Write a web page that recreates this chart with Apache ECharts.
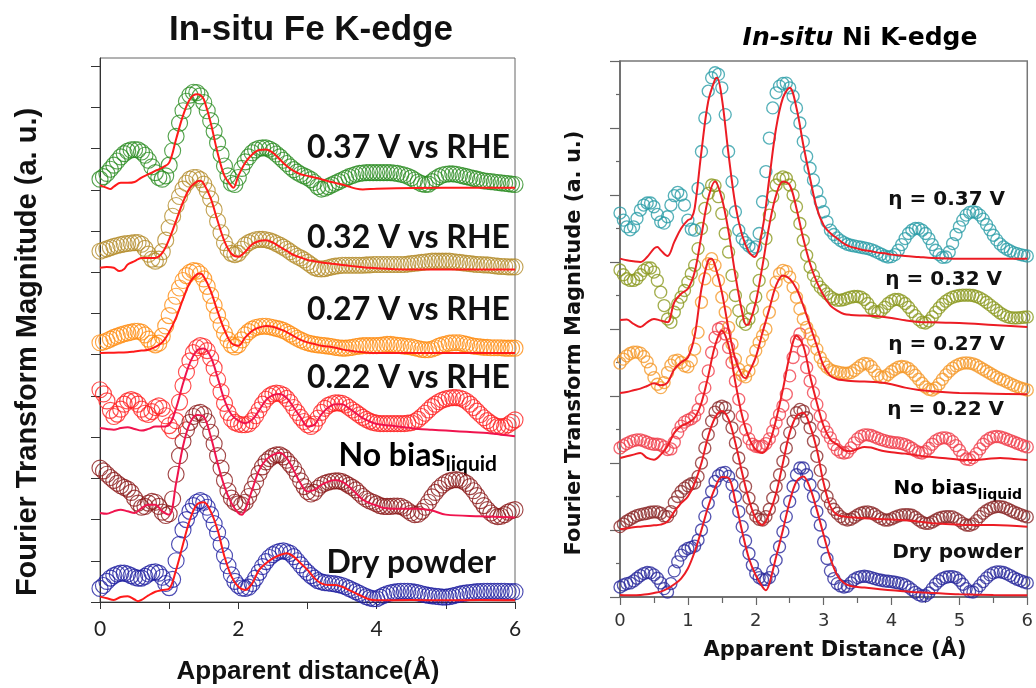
<!DOCTYPE html>
<html>
<head>
<meta charset="utf-8">
<script src="https://cdn.jsdelivr.net/npm/echarts@6/dist/echarts.min.js"></script>
<style>
  html, body { margin: 0; padding: 0; background: #fff; }
  #chart { width: 1036px; height: 688px; }
</style>
</head>
<body>
<div id="chart"></div>
<script>
// Apparent distance grid of the measured FT magnitudes (Å)
const R_STEP = 0.05;

// Vertical stacking offsets (a. u.), bottom trace first
const stackOffsets = [0, 2, 4, 6, 8, 10];

// ---------- Fe K-edge: measured |FT| (rows cover 1 Å each, last value at 6 Å) ----------
const feDry = [
  0.33,0.40,0.50,0.58,0.64,0.68,0.70,0.70,0.68,0.64,0.60,0.58,0.58,0.62,0.68,0.72,0.73,0.70,0.60,0.45,
  0.35,0.55,1.00,1.40,1.75,2.00,2.20,2.34,2.42,2.46,2.42,2.30,2.12,1.90,1.68,1.40,1.12,0.88,0.66,0.50,
  0.40,0.34,0.33,0.36,0.45,0.58,0.72,0.86,0.98,1.08,1.15,1.20,1.23,1.24,1.22,1.18,1.10,1.00,0.90,0.80,
  0.72,0.64,0.58,0.52,0.49,0.47,0.46,0.45,0.44,0.42,0.40,0.37,0.33,0.29,0.25,0.21,0.17,0.13,0.10,0.08,
  0.08,0.12,0.16,0.20,0.22,0.24,0.25,0.26,0.26,0.26,0.25,0.24,0.22,0.20,0.18,0.16,0.15,0.14,0.13,0.12,
  0.12,0.13,0.15,0.17,0.19,0.21,0.22,0.23,0.24,0.25,0.25,0.26,0.26,0.26,0.26,0.26,0.26,0.26,0.25,0.25,
  0.25
];
const feNoBias = [
  1.25,1.18,1.10,1.02,0.95,0.88,0.82,0.78,0.74,0.66,0.52,0.40,0.30,0.32,0.40,0.44,0.42,0.32,0.18,0.10,
  0.14,0.50,1.10,1.55,1.90,2.18,2.36,2.50,2.58,2.60,2.55,2.38,2.12,1.84,1.55,1.25,0.95,0.70,0.52,0.42,
  0.38,0.36,0.42,0.56,0.74,0.92,1.12,1.28,1.40,1.48,1.54,1.57,1.57,1.52,1.44,1.34,1.24,1.10,0.94,0.80,
  0.68,0.62,0.66,0.76,0.84,0.88,0.91,0.93,0.94,0.94,0.92,0.88,0.83,0.78,0.72,0.64,0.56,0.50,0.45,0.42,
  0.38,0.34,0.32,0.32,0.32,0.33,0.33,0.32,0.28,0.22,0.16,0.12,0.13,0.20,0.30,0.42,0.55,0.66,0.76,0.84,
  0.90,0.94,0.96,0.97,0.96,0.93,0.88,0.80,0.70,0.58,0.46,0.34,0.24,0.16,0.10,0.07,0.08,0.12,0.18,0.22,
  0.24
];
const fe022 = [
  1.15,1.05,0.88,0.65,0.50,0.56,0.68,0.80,0.88,0.91,0.88,0.80,0.68,0.58,0.55,0.62,0.72,0.76,0.70,0.52,
  0.28,0.16,0.40,0.85,1.25,1.58,1.85,2.05,2.17,2.22,2.20,2.10,1.92,1.68,1.40,1.10,0.82,0.60,0.44,0.36,
  0.32,0.30,0.30,0.32,0.40,0.52,0.66,0.80,0.92,1.00,1.05,1.07,1.06,1.02,0.94,0.84,0.72,0.60,0.48,0.38,
  0.30,0.26,0.32,0.46,0.60,0.70,0.77,0.81,0.83,0.83,0.82,0.78,0.72,0.66,0.60,0.54,0.48,0.43,0.39,0.36,
  0.34,0.33,0.33,0.33,0.33,0.33,0.33,0.33,0.33,0.34,0.35,0.38,0.43,0.50,0.58,0.66,0.74,0.80,0.86,0.90,
  0.93,0.95,0.96,0.96,0.95,0.92,0.87,0.80,0.72,0.63,0.55,0.47,0.40,0.34,0.29,0.26,0.25,0.26,0.30,0.36,
  0.42
];
const fe027 = [
  0.29,0.31,0.34,0.38,0.42,0.45,0.48,0.51,0.53,0.55,0.57,0.57,0.55,0.48,0.38,0.28,0.24,0.28,0.45,0.70,
  0.95,1.20,1.42,1.62,1.80,1.92,2.00,2.04,2.03,1.96,1.84,1.66,1.44,1.20,0.96,0.72,0.52,0.36,0.24,0.19,
  0.24,0.36,0.48,0.56,0.62,0.66,0.68,0.69,0.69,0.68,0.66,0.64,0.62,0.59,0.55,0.50,0.45,0.40,0.36,0.32,
  0.29,0.27,0.25,0.24,0.23,0.22,0.21,0.20,0.18,0.17,0.16,0.16,0.17,0.18,0.20,0.21,0.22,0.22,0.22,0.22,
  0.22,0.23,0.24,0.25,0.25,0.24,0.23,0.22,0.21,0.20,0.19,0.17,0.15,0.13,0.12,0.12,0.14,0.17,0.21,0.24,
  0.26,0.28,0.29,0.29,0.29,0.27,0.25,0.23,0.21,0.20,0.19,0.18,0.18,0.17,0.17,0.17,0.17,0.16,0.16,0.16,
  0.16
];
const fe032 = [
  0.51,0.54,0.57,0.60,0.63,0.65,0.67,0.69,0.70,0.71,0.72,0.72,0.68,0.58,0.44,0.32,0.27,0.32,0.50,0.78,
  1.08,1.36,1.62,1.84,2.02,2.16,2.26,2.30,2.30,2.25,2.14,1.98,1.78,1.52,1.24,0.96,0.72,0.56,0.46,0.43,
  0.46,0.56,0.66,0.72,0.76,0.79,0.80,0.80,0.79,0.77,0.74,0.70,0.66,0.61,0.56,0.50,0.44,0.39,0.35,0.30,
  0.24,0.18,0.12,0.09,0.08,0.09,0.11,0.13,0.15,0.16,0.17,0.17,0.17,0.17,0.17,0.17,0.17,0.18,0.18,0.19,
  0.19,0.19,0.19,0.19,0.19,0.19,0.19,0.19,0.19,0.20,0.21,0.22,0.23,0.24,0.25,0.26,0.27,0.27,0.27,0.27,
  0.27,0.27,0.26,0.25,0.24,0.23,0.22,0.21,0.20,0.19,0.19,0.18,0.18,0.17,0.16,0.15,0.14,0.14,0.13,0.13,
  0.13
];
const fe037 = [
  0.26,0.32,0.40,0.50,0.60,0.70,0.80,0.88,0.94,0.97,0.98,0.97,0.92,0.84,0.72,0.56,0.42,0.30,0.26,0.34,
  0.60,0.95,1.30,1.62,1.92,2.15,2.30,2.37,2.36,2.28,2.12,1.92,1.68,1.42,1.14,0.86,0.58,0.34,0.16,0.13,
  0.30,0.52,0.68,0.80,0.90,0.97,1.01,1.02,1.02,0.99,0.94,0.87,0.80,0.72,0.64,0.56,0.49,0.43,0.38,0.34,
  0.30,0.25,0.18,0.08,0.02,0.04,0.08,0.12,0.16,0.20,0.24,0.28,0.32,0.35,0.38,0.40,0.41,0.42,0.42,0.42,
  0.42,0.42,0.42,0.42,0.42,0.41,0.40,0.38,0.36,0.33,0.29,0.24,0.19,0.15,0.13,0.14,0.20,0.27,0.32,0.36,
  0.38,0.39,0.39,0.38,0.36,0.34,0.32,0.30,0.28,0.26,0.24,0.22,0.21,0.20,0.19,0.18,0.17,0.16,0.15,0.14,
  0.13
];

// Fe K-edge fits: [R (Å), |FT|]
const feDryFit = [[0,0.13],[0.1,0.09],[0.2,0.05],[0.3,0.12],[0.4,0.14],[0.5,0.06],[0.55,0.02],[0.6,0.05],[0.7,0.16],[0.8,0.25],[0.9,0.29],[1.0,0.32],[1.1,0.78],[1.2,1.4],[1.3,2.0],[1.4,2.36],[1.5,2.42],[1.6,2.2],[1.7,1.75],[1.8,1.1],[1.9,0.62],[2.0,0.37],[2.1,0.29],[2.2,0.45],[2.3,0.78],[2.4,0.94],[2.5,1.06],[2.6,1.14],[2.7,1.18],[2.8,1.1],[2.9,0.94],[3.0,0.78],[3.1,0.58],[3.2,0.45],[3.3,0.41],[3.4,0.41],[3.5,0.37],[3.6,0.29],[3.7,0.21],[3.8,0.13],[3.9,0.06],[4.0,0.04],[4.5,0.05],[5.0,0.04],[5.5,0.05],[6.0,0.04]];
const feNoBiasFit = [[0,0.16],[0.1,0.14],[0.2,0.2],[0.3,0.24],[0.4,0.2],[0.5,0.16],[0.6,0.28],[0.7,0.36],[0.8,0.36],[0.9,0.2],[1.0,0.12],[1.1,0.88],[1.2,1.78],[1.3,2.34],[1.4,2.54],[1.5,2.5],[1.6,2.02],[1.7,1.37],[1.8,0.8],[1.9,0.4],[2.0,0.16],[2.05,0.12],[2.1,0.24],[2.2,0.72],[2.3,1.2],[2.4,1.45],[2.5,1.57],[2.6,1.62],[2.7,1.49],[2.8,1.2],[2.9,0.88],[3.0,0.68],[3.1,0.72],[3.2,0.84],[3.3,0.92],[3.4,0.96],[3.5,0.92],[3.6,0.8],[3.7,0.64],[3.8,0.48],[3.9,0.4],[4.0,0.34],[4.1,0.28],[4.3,0.26],[4.6,0.26],[4.8,0.22],[5.0,0.12],[5.5,0.08],[6.0,0.05]];
const fe022Fit = [[0,0.22],[0.1,0.2],[0.2,0.18],[0.3,0.22],[0.4,0.24],[0.5,0.2],[0.6,0.16],[0.7,0.2],[0.8,0.26],[0.9,0.26],[1.0,0.3],[1.1,0.7],[1.2,1.3],[1.3,1.8],[1.4,2.1],[1.5,2.15],[1.6,1.95],[1.7,1.45],[1.8,0.9],[1.9,0.55],[2.0,0.4],[2.1,0.34],[2.2,0.42],[2.3,0.65],[2.4,0.9],[2.5,1.02],[2.6,1.05],[2.7,0.95],[2.8,0.72],[2.9,0.48],[3.0,0.26],[3.1,0.3],[3.2,0.55],[3.3,0.72],[3.4,0.8],[3.5,0.8],[3.6,0.7],[3.7,0.58],[3.8,0.46],[3.9,0.38],[4.0,0.32],[4.2,0.28],[4.4,0.24],[4.6,0.2],[4.8,0.18],[5.0,0.16],[5.2,0.14],[5.4,0.12],[5.6,0.1],[5.8,0.06],[6.0,0.02]];
const fe027Fit = [[0,0.04],[0.2,0.05],[0.4,0.06],[0.5,0.08],[0.6,0.1],[0.7,0.12],[0.8,0.19],[0.9,0.3],[1.0,0.55],[1.1,0.9],[1.2,1.35],[1.3,1.75],[1.4,1.95],[1.45,1.97],[1.5,1.9],[1.6,1.55],[1.7,1.05],[1.8,0.6],[1.9,0.28],[2.0,0.22],[2.1,0.42],[2.2,0.58],[2.3,0.66],[2.4,0.7],[2.5,0.68],[2.6,0.62],[2.7,0.55],[2.8,0.45],[2.9,0.36],[3.0,0.3],[3.1,0.26],[3.2,0.22],[3.3,0.2],[3.4,0.17],[3.5,0.13],[3.6,0.1],[3.7,0.08],[3.8,0.06],[4.0,0.04],[5.0,0.04],[6.0,0.04]];
const fe032Fit = [[0,0.11],[0.1,0.13],[0.2,0.11],[0.28,0.03],[0.35,0.08],[0.4,0.19],[0.5,0.27],[0.6,0.35],[0.7,0.35],[0.8,0.35],[0.9,0.47],[1.0,0.8],[1.1,1.25],[1.2,1.7],[1.3,2.05],[1.4,2.2],[1.45,2.22],[1.5,2.15],[1.6,1.8],[1.7,1.25],[1.8,0.75],[1.9,0.45],[2.0,0.38],[2.1,0.5],[2.2,0.68],[2.3,0.76],[2.4,0.78],[2.5,0.72],[2.6,0.62],[2.7,0.52],[2.8,0.42],[2.9,0.36],[3.0,0.3],[3.1,0.27],[3.2,0.24],[3.3,0.22],[3.4,0.2],[3.5,0.18],[3.6,0.16],[3.7,0.14],[3.8,0.12],[3.9,0.11],[4.0,0.1],[4.2,0.08],[4.4,0.07],[5.0,0.07],[6.0,0.07]];
const fe037Fit = [[0,0.11],[0.1,0.05],[0.15,0.02],[0.2,0.08],[0.3,0.17],[0.4,0.17],[0.5,0.19],[0.6,0.3],[0.7,0.38],[0.8,0.46],[0.9,0.54],[1.0,0.66],[1.1,1.23],[1.2,1.8],[1.3,2.2],[1.4,2.32],[1.45,2.3],[1.5,2.2],[1.6,1.63],[1.7,0.9],[1.8,0.34],[1.9,0.09],[1.93,0.05],[2.0,0.34],[2.1,0.66],[2.2,0.86],[2.3,0.97],[2.4,0.98],[2.5,0.9],[2.6,0.74],[2.7,0.58],[2.8,0.46],[2.9,0.38],[3.0,0.34],[3.1,0.3],[3.2,0.26],[3.3,0.21],[3.4,0.17],[3.5,0.13],[3.6,0.08],[3.7,0.03],[3.8,0.01],[4.0,0.03],[5.0,0.05],[6.0,0.05]];

// ---------- Ni K-edge: measured |FT| ----------
const niDry = [
  0.30,0.36,0.40,0.42,0.48,0.56,0.64,0.70,0.73,0.72,0.66,0.56,0.42,0.25,0.15,0.40,0.78,1.05,1.25,1.38,
  1.45,1.48,1.52,1.70,2.00,2.40,2.80,3.15,3.45,3.62,3.70,3.72,3.60,3.35,3.00,2.55,2.10,1.68,1.30,0.95,
  0.70,0.58,0.52,0.52,0.58,0.78,1.10,1.50,1.95,2.40,2.85,3.30,3.65,3.85,3.85,3.65,3.35,3.00,2.55,2.15,
  1.65,1.15,0.78,0.55,0.40,0.33,0.30,0.32,0.42,0.52,0.58,0.61,0.62,0.61,0.58,0.55,0.52,0.50,0.48,0.47,
  0.46,0.44,0.42,0.40,0.36,0.30,0.22,0.14,0.07,0.03,0.04,0.12,0.25,0.38,0.48,0.55,0.59,0.61,0.61,0.58,
  0.50,0.38,0.25,0.16,0.15,0.22,0.34,0.46,0.57,0.66,0.72,0.75,0.75,0.73,0.69,0.64,0.58,0.53,0.49,0.45,
  0.42
];
const niNoBias = [
  0.10,0.18,0.26,0.32,0.38,0.43,0.46,0.48,0.50,0.53,0.54,0.54,0.50,0.42,0.40,0.55,0.82,1.00,1.15,1.25,
  1.32,1.38,1.40,1.60,2.00,2.45,2.85,3.25,3.52,3.65,3.70,3.65,3.40,3.05,2.60,2.15,1.70,1.30,0.95,0.62,
  0.42,0.32,0.30,0.40,0.62,0.95,1.30,1.65,2.05,2.45,2.90,3.25,3.50,3.60,3.55,3.35,3.05,2.65,2.20,1.78,
  1.35,1.00,0.78,0.62,0.50,0.40,0.33,0.30,0.32,0.38,0.45,0.50,0.53,0.54,0.52,0.47,0.40,0.34,0.30,0.30,
  0.33,0.38,0.42,0.45,0.46,0.46,0.44,0.38,0.30,0.23,0.20,0.20,0.24,0.30,0.35,0.38,0.40,0.40,0.39,0.34,
  0.28,0.20,0.15,0.14,0.18,0.28,0.40,0.50,0.58,0.64,0.68,0.70,0.70,0.68,0.64,0.59,0.54,0.50,0.46,0.42,
  0.39
];
const ni022 = [
  0.45,0.52,0.58,0.63,0.67,0.69,0.69,0.66,0.62,0.58,0.56,0.56,0.54,0.48,0.40,0.42,0.62,0.90,1.10,1.22,
  1.28,1.32,1.40,1.60,1.90,2.25,2.75,3.30,3.75,4.00,4.05,3.85,3.45,3.00,2.45,1.90,1.40,1.00,0.72,0.56,
  0.50,0.48,0.50,0.58,0.72,0.95,1.20,1.45,1.70,2.05,2.60,3.15,3.65,3.85,3.35,2.85,2.45,2.10,1.75,1.40,
  1.10,0.92,0.75,0.55,0.40,0.32,0.30,0.32,0.45,0.60,0.72,0.80,0.84,0.84,0.82,0.78,0.74,0.70,0.67,0.64,
  0.62,0.61,0.60,0.58,0.55,0.50,0.44,0.37,0.32,0.30,0.34,0.44,0.56,0.66,0.72,0.75,0.75,0.72,0.64,0.52,
  0.38,0.22,0.12,0.10,0.16,0.28,0.42,0.56,0.67,0.74,0.78,0.79,0.78,0.75,0.71,0.67,0.63,0.59,0.55,0.51,
  0.48
];
const ni027 = [
  0.98,1.10,1.20,1.27,1.31,1.31,1.28,1.18,1.02,0.80,0.55,0.35,0.25,0.40,0.70,0.92,1.05,1.07,1.00,0.90,
  0.87,1.05,1.40,1.90,2.80,3.50,3.95,4.10,3.90,3.45,2.95,2.50,2.05,1.55,1.10,0.80,0.62,0.57,0.75,1.05,
  1.35,1.60,1.80,2.00,2.50,3.00,3.40,3.65,3.75,3.72,3.55,3.25,2.95,2.60,2.30,2.05,1.85,1.65,1.40,1.15,
  0.98,0.86,0.78,0.74,0.72,0.70,0.68,0.68,0.70,0.76,0.84,0.92,0.97,0.96,0.88,0.75,0.62,0.56,0.57,0.64,
  0.73,0.80,0.86,0.88,0.87,0.82,0.73,0.62,0.50,0.38,0.27,0.20,0.18,0.24,0.36,0.50,0.63,0.74,0.83,0.90,
  0.95,0.98,0.99,0.98,0.96,0.92,0.86,0.80,0.74,0.68,0.62,0.56,0.51,0.47,0.42,0.37,0.32,0.28,0.24,0.21,
  0.18
];
const ni032 = [
  1.76,1.62,1.50,1.45,1.45,1.50,1.62,1.75,1.82,1.82,1.70,1.45,1.10,0.70,0.30,0.20,0.50,0.75,0.95,1.15,
  1.40,1.65,1.90,2.40,3.00,3.60,4.05,4.30,4.28,3.95,3.45,2.85,2.30,1.60,1.00,0.55,0.22,0.14,0.30,0.60,
  0.96,1.45,1.95,2.70,3.40,3.95,4.30,4.48,4.54,4.50,4.30,4.00,3.65,3.15,2.65,2.20,1.85,1.60,1.40,1.25,
  1.15,1.05,0.96,0.90,0.86,0.86,0.88,0.92,0.95,0.97,0.97,0.95,0.88,0.76,0.62,0.52,0.50,0.55,0.65,0.76,
  0.84,0.88,0.88,0.84,0.76,0.65,0.52,0.40,0.28,0.20,0.18,0.24,0.36,0.50,0.63,0.74,0.83,0.90,0.95,0.98,
  1.00,1.01,1.01,1.01,1.00,0.97,0.93,0.87,0.80,0.72,0.64,0.56,0.48,0.42,0.37,0.34,0.33,0.33,0.34,0.35,
  0.36
];
const ni037 = [
  1.46,1.25,1.05,0.96,1.05,1.30,1.55,1.70,1.76,1.76,1.65,1.42,1.20,1.16,1.35,1.70,1.98,2.08,2.00,1.70,
  1.25,0.98,0.95,2.20,3.30,4.30,5.10,5.50,5.65,5.60,5.20,4.40,3.30,2.40,1.50,0.95,0.70,0.58,0.48,0.40,
  0.45,0.85,1.80,2.70,3.70,4.60,5.05,5.25,5.33,5.34,5.20,4.95,4.60,4.15,3.60,3.15,2.80,2.45,2.10,1.80,
  1.50,1.20,0.95,0.82,0.72,0.64,0.58,0.53,0.50,0.48,0.46,0.44,0.42,0.40,0.37,0.33,0.28,0.23,0.18,0.15,
  0.16,0.22,0.35,0.52,0.70,0.85,0.95,1.00,1.00,0.95,0.85,0.70,0.52,0.35,0.22,0.14,0.15,0.30,0.55,0.82,
  1.05,1.25,1.40,1.48,1.50,1.48,1.40,1.28,1.12,0.96,0.80,0.66,0.54,0.45,0.38,0.33,0.28,0.25,0.22,0.20,
  0.18
];

// Ni K-edge fits: [R (Å), |FT|]
const niDryFit = [[0,0.06],[0.2,0.05],[0.3,0.06],[0.4,0.08],[0.5,0.12],[0.6,0.16],[0.7,0.25],[0.8,0.38],[0.9,0.55],[1.0,0.85],[1.1,1.35],[1.2,2.0],[1.3,2.7],[1.4,3.25],[1.5,3.58],[1.6,3.55],[1.7,2.85],[1.8,1.95],[1.9,1.15],[2.0,0.65],[2.1,0.3],[2.15,0.2],[2.2,0.4],[2.3,1.2],[2.4,2.0],[2.5,2.85],[2.6,3.45],[2.7,3.6],[2.8,3.25],[2.9,2.6],[3.0,1.85],[3.1,1.15],[3.2,0.65],[3.3,0.42],[3.4,0.33],[3.5,0.3],[3.6,0.28],[3.8,0.24],[4.0,0.2],[4.2,0.17],[4.4,0.14],[4.6,0.12],[4.8,0.1],[5.0,0.08],[5.5,0.06],[6.0,0.05]];
const niNoBiasFit = [[0,0.02],[0.1,0.05],[0.2,0.08],[0.3,0.1],[0.4,0.12],[0.5,0.14],[0.6,0.16],[0.7,0.25],[0.8,0.55],[0.9,0.8],[1.0,1.0],[1.1,1.4],[1.2,2.0],[1.3,2.8],[1.4,3.35],[1.5,3.55],[1.6,3.3],[1.7,2.6],[1.8,1.7],[1.9,0.9],[2.0,0.35],[2.1,0.15],[2.2,0.5],[2.3,1.1],[2.4,2.0],[2.5,2.9],[2.6,3.4],[2.7,3.5],[2.8,3.1],[2.9,2.4],[3.0,1.4],[3.1,0.7],[3.2,0.45],[3.3,0.4],[3.4,0.38],[3.6,0.35],[3.8,0.33],[4.0,0.31],[4.2,0.29],[4.4,0.25],[4.6,0.2],[4.8,0.18],[5.0,0.16],[5.2,0.15],[5.5,0.15],[6.0,0.1]];
const ni022Fit = [[0,0.15],[0.1,0.2],[0.2,0.25],[0.3,0.3],[0.4,0.15],[0.5,0.1],[0.6,0.25],[0.7,0.5],[0.8,0.9],[0.9,1.1],[1.0,1.2],[1.1,1.35],[1.2,1.8],[1.3,2.6],[1.4,3.5],[1.5,3.95],[1.6,3.5],[1.7,2.4],[1.8,1.4],[1.9,0.75],[2.0,0.4],[2.1,0.3],[2.2,0.6],[2.3,1.3],[2.4,2.2],[2.5,3.2],[2.6,3.8],[2.7,3.5],[2.8,2.6],[2.9,1.8],[3.0,1.1],[3.1,0.7],[3.2,0.55],[3.3,0.38],[3.4,0.35],[3.5,0.42],[3.6,0.48],[3.7,0.46],[3.8,0.4],[3.9,0.35],[4.0,0.32],[4.2,0.28],[4.4,0.22],[4.6,0.18],[4.8,0.14],[5.0,0.1],[5.2,0.09],[5.4,0.12],[5.6,0.15],[5.8,0.12],[6.0,0.09]];
const ni027Fit = [[0,0.09],[0.1,0.12],[0.2,0.17],[0.3,0.22],[0.4,0.3],[0.5,0.38],[0.6,0.32],[0.7,0.4],[0.8,0.8],[0.9,1.0],[1.0,1.15],[1.1,1.8],[1.2,3.2],[1.3,4.05],[1.35,4.1],[1.4,3.9],[1.5,3.1],[1.6,2.0],[1.7,1.1],[1.8,0.6],[1.85,0.53],[1.9,0.7],[2.0,1.16],[2.1,1.9],[2.2,2.6],[2.3,3.3],[2.4,3.6],[2.5,3.5],[2.6,3.2],[2.7,2.7],[2.8,2.1],[2.9,1.5],[3.0,0.9],[3.1,0.6],[3.2,0.5],[3.3,0.47],[3.4,0.45],[3.6,0.43],[3.8,0.41],[4.0,0.35],[4.2,0.25],[4.4,0.18],[4.6,0.14],[4.8,0.11],[5.0,0.09],[5.5,0.07],[6.0,0.05]];
const ni032Fit = [[0,0.27],[0.1,0.28],[0.2,0.15],[0.3,0.06],[0.4,0.2],[0.5,0.3],[0.6,0.25],[0.7,0.2],[0.8,0.8],[0.9,1.05],[1.0,1.2],[1.1,1.7],[1.2,2.8],[1.3,3.9],[1.4,4.4],[1.5,3.9],[1.6,2.9],[1.7,1.6],[1.8,0.5],[1.86,0.12],[1.9,0.15],[2.0,0.8],[2.1,1.9],[2.2,3.1],[2.3,4.0],[2.4,4.4],[2.5,4.3],[2.6,3.6],[2.7,2.7],[2.8,1.95],[2.9,1.4],[3.0,1.0],[3.1,0.7],[3.2,0.55],[3.3,0.45],[3.4,0.42],[3.6,0.4],[3.8,0.38],[4.0,0.33],[4.2,0.26],[4.4,0.21],[4.6,0.2],[4.8,0.19],[5.0,0.18],[5.5,0.12],[6.0,0.06]];
const ni037Fit = [[0,0.1],[0.1,0.05],[0.2,0.02],[0.3,0.0],[0.4,0.15],[0.5,0.4],[0.55,0.45],[0.6,0.35],[0.7,0.18],[0.8,0.6],[0.9,1.0],[1.0,1.25],[1.05,1.3],[1.1,1.6],[1.2,3.3],[1.3,4.8],[1.4,5.45],[1.43,5.5],[1.5,4.9],[1.6,3.2],[1.7,1.7],[1.8,0.8],[1.9,0.3],[1.98,0.15],[2.1,1.0],[2.2,2.5],[2.3,4.0],[2.4,4.9],[2.5,5.2],[2.6,4.6],[2.7,3.5],[2.8,2.5],[2.9,1.6],[3.0,1.1],[3.1,0.86],[3.2,0.7],[3.3,0.55],[3.4,0.45],[3.5,0.4],[3.6,0.35],[3.7,0.32],[3.8,0.28],[3.9,0.26],[4.0,0.22],[4.2,0.18],[4.4,0.15],[4.6,0.12],[5.0,0.1],[6.0,0.1]];

// Trace labels, bottom to top
const feLabels = ['Dry powder', 'No bias', '0.22 V vs RHE', '0.27 V vs RHE', '0.32 V vs RHE', '0.37 V vs RHE'];
const niLabels = ['Dry powder', 'No bias', 'η = 0.22 V', 'η = 0.27 V', 'η = 0.32 V', 'η = 0.37 V'];
const xTickLabelsFe = [0, 2, 4, 6];
const xTickLabelsNi = [0, 1, 2, 3, 4, 5, 6];

// ---------- styling ----------
const feColors = ['#1f1fa0', '#8b1a1a', '#ff2222', '#ff8c10', '#b48c2a', '#2a8c22'];
const niColors = ['#2b2b9c', '#8c2c2c', '#f0404c', '#f59a2c', '#8c9a22', '#2c9ea8'];
const feFitColors = ['#ff1a1a', '#f0144e', '#f0144e', '#ff1a1a', '#ff1a1a', '#ff1a1a'];
const NI_FIT = '#ec1c24';

const feSets = [
  [feDry, feDryFit], [feNoBias, feNoBiasFit], [fe022, fe022Fit],
  [fe027, fe027Fit], [fe032, fe032Fit], [fe037, fe037Fit]
];
const niSets = [
  [niDry, niDryFit], [niNoBias, niNoBiasFit], [ni022, ni022Fit],
  [ni027, ni027Fit], [ni032, ni032Fit], [ni037, ni037Fit]
];

const measured = (vals, off) => vals.map((v, i) => [+(i * R_STEP).toFixed(2), +(v + off).toFixed(3)]);
const fitted = (pairs, off) => pairs.map(p => [p[0], +(p[1] + off).toFixed(3)]);

const series = [];
function addPanel(sets, labels, gridIdx, colors, fitColors, size, bw) {
  sets.forEach(([vals, fit], k) => {
    const off = stackOffsets[k];
    series.push({
      name: labels[k], type: 'scatter', xAxisIndex: gridIdx, yAxisIndex: gridIdx,
      data: measured(vals, off), symbol: 'circle', symbolSize: size, silent: true,
      itemStyle: { color: 'rgba(0,0,0,0)', borderColor: colors[k], borderWidth: bw }
    });
    series.push({
      name: labels[k] + ' fit', type: 'line', xAxisIndex: gridIdx, yAxisIndex: gridIdx,
      data: fitted(fit, off), showSymbol: false, smooth: 0.35, silent: true,
      lineStyle: { color: fitColors[k], width: 2 }
    });
  });
}
addPanel(feSets, feLabels, 0, feColors, feFitColors, 16, 1.15);
addPanel(niSets, niLabels, 1, niColors, niColors.map(() => NI_FIT), 12, 1.35);

const range = (a, b) => Array.from({ length: b - a + 1 }, (_, i) => a + i);

const option = {
  animation: false,
  backgroundColor: '#fff',
  grid: [
    { left: 100, top: 58, width: 415, height: 544, show: true, borderColor: '#666', borderWidth: 1, backgroundColor: 'transparent' },
    { left: 620, top: 61, width: 410, height: 536, show: true, borderColor: '#777', borderWidth: 1.5, backgroundColor: 'transparent' }
  ],
  xAxis: [
    {
      gridIndex: 0, type: 'value', min: 0, max: 6, interval: 1,
      axisLine: { lineStyle: { color: '#333', width: 1 } },
      axisTick: { length: 7, lineStyle: { color: '#333' } },
      axisLabel: {
        margin: 17, fontSize: 21, fontFamily: 'Lato', color: '#222',
        formatter: v => (xTickLabelsFe.includes(v) ? String(v) : '')
      },
      splitLine: { show: false }
    },
    {
      gridIndex: 1, type: 'value', min: 0, max: 6, interval: 1,
      axisLine: { lineStyle: { color: '#666', width: 1.5 } },
      axisTick: { length: 8, lineStyle: { color: '#666', width: 1.2 } },
      minorTick: { show: true, splitNumber: 2, length: 6, lineStyle: { color: '#666', width: 1.2 } },
      axisLabel: {
        margin: 15, fontSize: 18, fontFamily: 'DejaVu Sans', color: '#333',
        formatter: v => (xTickLabelsNi.includes(v) ? String(v) : '')
      },
      splitLine: { show: false }, minorSplitLine: { show: false }
    }
  ],
  yAxis: [
    {
      gridIndex: 0, type: 'value', min: 0, max: 13.2, interval: 1,
      axisLine: { show: true, lineStyle: { color: '#333', width: 1 } },
      axisTick: { show: true, length: 9, lineStyle: { color: '#333' }, customValues: range(0, 13) },
      axisLabel: { show: false },
      splitLine: { show: false }
    },
    {
      gridIndex: 1, type: 'value', min: 0, max: 16, interval: 2,
      axisLine: { show: true, lineStyle: { color: '#666', width: 1.5 } },
      axisTick: { show: true, length: 10, lineStyle: { color: '#666', width: 1.2 } },
      minorTick: { show: true, splitNumber: 2, length: 4, lineStyle: { color: '#666', width: 1.2 } },
      axisLabel: { show: false },
      splitLine: { show: false }, minorSplitLine: { show: false }
    }
  ],
  series: series,
  graphic: [
    // Fe panel titles
    { type: 'text', x: 311, y: 30, silent: true,
      style: { text: 'In-situ Fe K-edge', font: 'bold 35px "Liberation Sans", Arial, sans-serif', fill: '#111', align: 'center', verticalAlign: 'middle' } },
    { type: 'text', x: 28, y: 352, rotation: Math.PI / 2, silent: true,
      style: { text: 'Fourier Transform Magnitude (a. u.)', font: 'bold 29px "Liberation Sans", Arial, sans-serif', fill: '#111', align: 'center', verticalAlign: 'middle' } },
    { type: 'text', x: 308, y: 672, silent: true,
      style: { text: 'Apparent distance(Å)', font: 'bold 26px "Liberation Sans", Arial, sans-serif', fill: '#111', align: 'center', verticalAlign: 'middle' } },
    // Fe trace labels
    { type: 'text', x: 510, y: 148, silent: true, style: { text: feLabels[5], font: 'bold 32px Lato, sans-serif', fill: '#111', align: 'right', verticalAlign: 'middle' } },
    { type: 'text', x: 510, y: 238, silent: true, style: { text: feLabels[4], font: 'bold 32px Lato, sans-serif', fill: '#111', align: 'right', verticalAlign: 'middle' } },
    { type: 'text', x: 510, y: 310, silent: true, style: { text: feLabels[3], font: 'bold 32px Lato, sans-serif', fill: '#111', align: 'right', verticalAlign: 'middle' } },
    { type: 'text', x: 510, y: 378, silent: true, style: { text: feLabels[2], font: 'bold 32px Lato, sans-serif', fill: '#111', align: 'right', verticalAlign: 'middle' } },
    { type: 'text', x: 497, y: 456, silent: true,
      style: { text: '{a|' + feLabels[1] + '}{b|liquid}', align: 'right', verticalAlign: 'middle',
        rich: {
          a: { fontFamily: 'Lato', fontWeight: 'bold', fontSize: 32, lineHeight: 38, color: '#111' },
          b: { fontFamily: 'Lato', fontWeight: 'bold', fontSize: 21, lineHeight: 20, verticalAlign: 'bottom', color: '#111' }
        } } },
    { type: 'text', x: 496, y: 563, silent: true, style: { text: feLabels[0], font: 'bold 32px Lato, sans-serif', fill: '#111', align: 'right', verticalAlign: 'middle' } },

    // Ni panel titles
    { type: 'text', x: 860, y: 38, silent: true,
      style: { text: '{i|In-situ}{n| Ni K-edge}', align: 'center', verticalAlign: 'middle',
        rich: {
          i: { fontFamily: 'DejaVu Sans', fontWeight: 'bold', fontStyle: 'italic', fontSize: 25, color: '#111' },
          n: { fontFamily: 'DejaVu Sans', fontWeight: 'bold', fontSize: 25, color: '#111' }
        } } },
    { type: 'text', x: 575, y: 343, rotation: Math.PI / 2, silent: true,
      style: { text: 'Fourier Transform Magnitude (a. u.)', font: 'bold 21px "DejaVu Sans", sans-serif', fill: '#111', align: 'center', verticalAlign: 'middle' } },
    { type: 'text', x: 835, y: 651, silent: true,
      style: { text: 'Apparent Distance (Å)', font: 'bold 21px "DejaVu Sans", sans-serif', fill: '#111', align: 'center', verticalAlign: 'middle' } },
    // Ni trace labels
    { type: 'text', x: 1005, y: 200, silent: true, style: { text: niLabels[5], font: 'bold 20px "DejaVu Sans", sans-serif', fill: '#111', align: 'right', verticalAlign: 'middle' } },
    { type: 'text', x: 1002, y: 280, silent: true, style: { text: niLabels[4], font: 'bold 20px "DejaVu Sans", sans-serif', fill: '#111', align: 'right', verticalAlign: 'middle' } },
    { type: 'text', x: 1005, y: 345, silent: true, style: { text: niLabels[3], font: 'bold 20px "DejaVu Sans", sans-serif', fill: '#111', align: 'right', verticalAlign: 'middle' } },
    { type: 'text', x: 1004, y: 410, silent: true, style: { text: niLabels[2], font: 'bold 20px "DejaVu Sans", sans-serif', fill: '#111', align: 'right', verticalAlign: 'middle' } },
    { type: 'text', x: 1022, y: 489, silent: true,
      style: { text: '{a|' + niLabels[1] + '}{b|liquid}', align: 'right', verticalAlign: 'middle',
        rich: {
          a: { fontFamily: 'DejaVu Sans', fontWeight: 'bold', fontSize: 20, lineHeight: 26, color: '#111' },
          b: { fontFamily: 'DejaVu Sans', fontWeight: 'bold', fontSize: 14, lineHeight: 14, verticalAlign: 'bottom', color: '#111' }
        } } },
    { type: 'text', x: 1023, y: 553, silent: true, style: { text: niLabels[0], font: 'bold 20px "DejaVu Sans", sans-serif', fill: '#111', align: 'right', verticalAlign: 'middle' } }
  ]
};

const chart = echarts.init(document.getElementById('chart'), null, { renderer: 'canvas' });
chart.setOption(option);
</script>
</body>
</html>
